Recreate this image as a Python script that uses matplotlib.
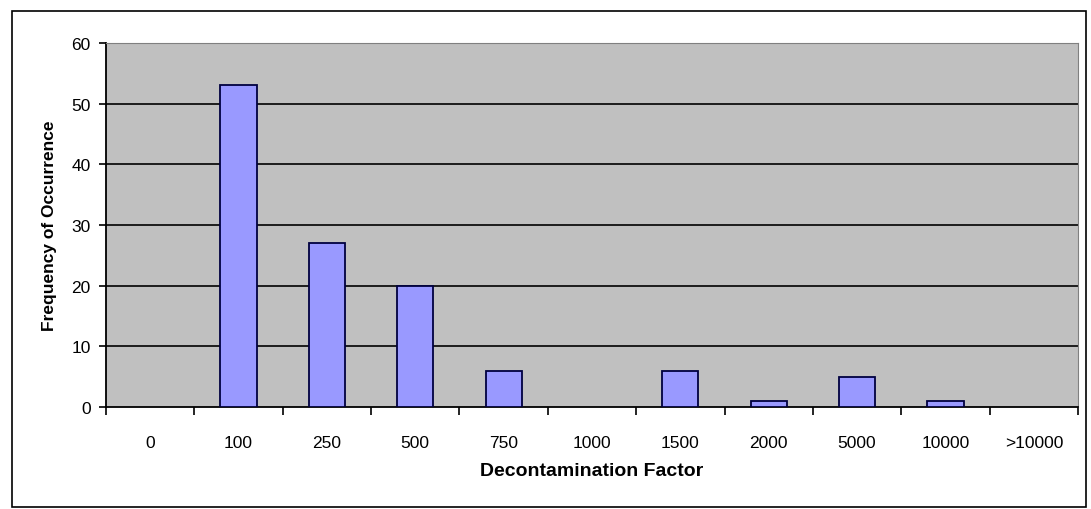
import matplotlib
matplotlib.use("Agg")
import matplotlib.pyplot as plt
import matplotlib.ticker as ticker
from matplotlib.patches import Rectangle
import numpy as np

# histogram of decontamination factor bins
categories = ["0", "100", "250", "500", "750", "1000", "1500", "2000", "5000", "10000", ">10000"]
frequency = [0, 53, 27, 20, 6, 0, 6, 1, 5, 1, 0]

plt.rcParams['font.family'] = ['Liberation Sans', 'DejaVu Sans']

fig = plt.figure(figsize=(10.91, 5.10), dpi=100)
W, H = 1091, 510
ax = fig.add_axes([106 / W, 1 - 408 / H, (1078 - 106) / W, (408 - 44) / H])

# outer chart border
fig.patches.append(Rectangle((12 / W, (H - 508) / H), (1086 - 12) / W, (508 - 12) / H,
                             transform=fig.transFigure, fill=False, edgecolor="black", linewidth=1.2))

x = np.arange(len(categories))
ax.set_facecolor("#c0c0c0")
edges = ["#000040" if v > 0 else "none" for v in frequency]
ax.bar(x, frequency, width=0.41, color="#9999ff", edgecolor=edges, linewidth=1.3, zorder=3)

ax.set_xlim(-0.5, len(categories) - 0.5)
ax.set_ylim(0, 60)
ax.yaxis.set_major_locator(ticker.MultipleLocator(10))
for yv in range(10, 60, 10):
    ax.axhline(yv, color="black", linewidth=1.2, zorder=1)

ax.set_xticks(x)
ax.set_xticklabels(categories, fontsize=12.5)
ax.tick_params(axis="x", which="major", length=0, pad=20)
ax.set_xticks(np.arange(-0.5, len(categories) + 0.5, 1), minor=True)
ax.tick_params(axis="x", which="minor", length=6, width=1.2, direction="out")
ax.tick_params(axis="y", length=5, width=1.2, labelsize=12.5, pad=6)

for side in ["top", "right"]:
    ax.spines[side].set_color("#808080")
for side in ["left", "bottom"]:
    ax.spines[side].set_linewidth(1.3)

ax.set_xlabel("Decontamination Factor", fontsize=14, fontweight="bold", labelpad=9)
ax.set_ylabel("Frequency of Occurrence", fontsize=12.5, fontweight="bold", labelpad=10)

fig.savefig("out.png", dpi=100)
